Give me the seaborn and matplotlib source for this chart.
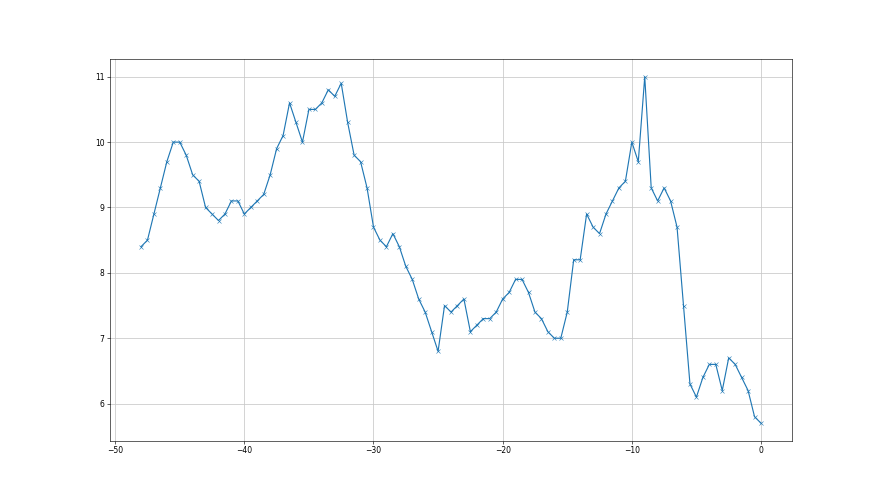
import numpy as np
import pandas as pd
import matplotlib
matplotlib.use("Agg")
import matplotlib.pyplot as plt
import seaborn as sns

# valores (passo de 0.5)
x_start = -48.0
x_step = 0.5
valores = [
    8.4, 8.5, 8.9, 9.3, 9.7, 10.0, 10.0, 9.8, 9.5, 9.4,
    9.0, 8.9, 8.8, 8.9, 9.1, 9.1, 8.9, 9.0, 9.1, 9.2,
    9.5, 9.9, 10.1, 10.6, 10.3, 10.0, 10.5, 10.5, 10.6, 10.8,
    10.7, 10.9, 10.3, 9.8, 9.7, 9.3, 8.7, 8.5, 8.4, 8.6,
    8.4, 8.1, 7.9, 7.6, 7.4, 7.1, 6.8, 7.5, 7.4, 7.5,
    7.6, 7.1, 7.2, 7.3, 7.3, 7.4, 7.6, 7.7, 7.9, 7.9,
    7.7, 7.4, 7.3, 7.1, 7.0, 7.0, 7.4, 8.2, 8.2, 8.9,
    8.7, 8.6, 8.9, 9.1, 9.3, 9.4, 10.0, 9.7, 11.0, 9.3,
    9.1, 9.3, 9.1, 8.7, 7.5, 6.3, 6.1, 6.4, 6.6, 6.6,
    6.2, 6.7, 6.6, 6.4, 6.2, 5.8, 5.7,
]
tempo = [x_start + i * x_step for i in range(len(valores))]

df = pd.DataFrame({"tempo": tempo, "valor": valores})

fig, ax = plt.subplots(figsize=(16, 9), dpi=55)
sns.lineplot(data=df, x="tempo", y="valor", marker="x", color="#1f77b4",
             markeredgecolor="#1f77b4", markersize=6, linewidth=1.5, ax=ax)
ax.grid(True, color="#c8c8c8", linewidth=1)
ax.set_axisbelow(True)
ax.set_xlabel("")
ax.set_ylabel("")
ax.set_xticks([-50, -40, -30, -20, -10, 0])
ax.set_yticks([6, 7, 8, 9, 10, 11])

plt.savefig("out.png", dpi=55)
plt.close()
